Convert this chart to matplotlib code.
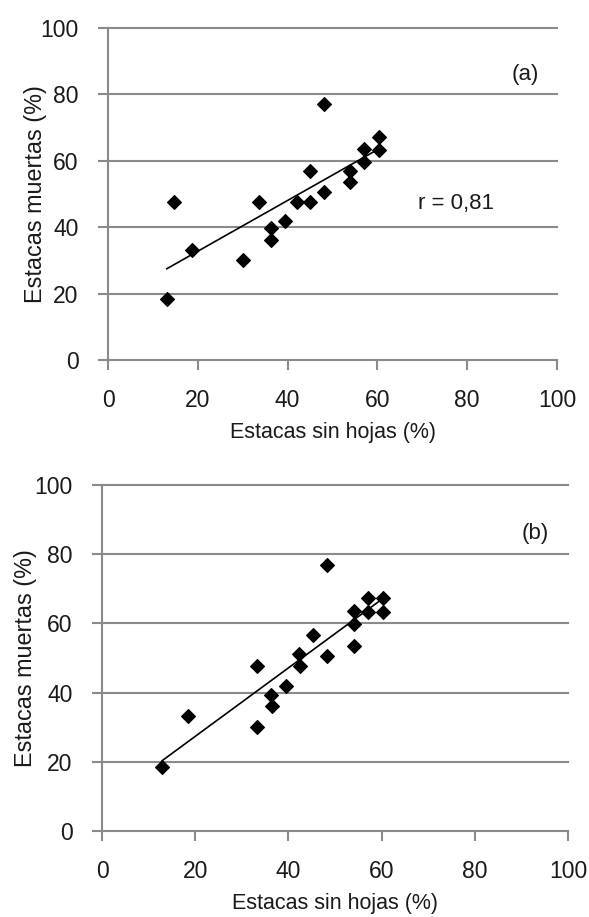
import numpy as np
import matplotlib as mpl
import matplotlib.pyplot as plt

# panel (a) values
a_sin_hojas = [13.1, 14.7, 18.6, 30.1, 33.6, 36.4, 36.4, 39.5, 42.2, 45.0,
               45.0, 48.2, 48.2, 54.0, 54.0, 57.0, 57.0, 60.4, 60.4]
a_muertas = [18.5, 47.7, 33.2, 30.0, 47.7, 39.7, 36.2, 42.0, 47.7, 56.8,
             47.7, 77.0, 50.6, 56.8, 53.5, 63.5, 59.7, 67.3, 63.3]

# panel (b)
b_sin_hojas = [12.9, 18.5, 33.3, 33.3, 36.3, 36.5, 39.4, 42.2, 42.4, 45.2,
               48.2, 48.2, 54.0, 54.0, 54.0, 57.0, 57.0, 60.4, 60.4]
b_muertas = [18.5, 33.1, 47.8, 30.0, 39.4, 36.0, 42.0, 51.2, 47.7, 56.6,
             76.9, 50.7, 63.7, 59.8, 53.6, 67.3, 63.2, 67.3, 63.2]

ticks = [0, 20, 40, 60, 80, 100]
xlabel = "Estacas sin hojas (%)"
ylabel = "Estacas muertas (%)"

GRAY = "#8a8a8a"
TXT = "#1a1a1a"

mpl.rcParams.update({
    "font.family": ["Liberation Sans", "DejaVu Sans"],
    "font.size": 15.5,
    "xtick.labelsize": 16.5,
    "ytick.labelsize": 16.5,
    "text.color": TXT,
    "axes.labelcolor": TXT,
    "xtick.color": GRAY,
    "ytick.color": GRAY,
    "xtick.labelcolor": TXT,
    "ytick.labelcolor": TXT,
})


def draw_panel(ax, x, y, tag, ylab_x, r_text=None):
    ax.set_xlim(0, 100)
    ax.set_ylim(0, 100)
    ax.set_xticks(ticks)
    ax.set_yticks(ticks)

    for s in ("top", "right"):
        ax.spines[s].set_visible(False)
    for s in ("left", "bottom"):
        ax.spines[s].set_color(GRAY)
        ax.spines[s].set_linewidth(1.5)
    ax.tick_params(direction="out", length=7.2, width=1.5, pad=14)

    for t in ticks[1:]:
        ax.axhline(t, color=GRAY, lw=1.5, zorder=0, clip_on=False)

    # least squares trend line over the data range
    xs = np.array(x)
    k, b = np.polyfit(xs, np.array(y), 1)
    xx = np.array([xs.min(), xs.max()])
    ax.plot(xx, k * xx + b, color="black", lw=1.2, zorder=2)

    ax.plot(x, y, linestyle="none", marker="D", ms=7.2, mfc="black",
            mec="black", mew=0.8, zorder=3)

    ax.text(93, 86, tag, ha="center", va="center", fontsize=16)
    if r_text:
        ax.text(69, 47, r_text, ha="left", va="center", fontsize=16)

    ax.set_xlabel(xlabel, labelpad=7)
    ax.set_ylabel(ylabel, fontsize=16.8)
    ax.yaxis.set_label_coords(ylab_x, 0.5)


fig = plt.figure(figsize=(5.89, 9.17), dpi=100)
ax1 = fig.add_axes([0.1834, 0.6074, 0.7623, 0.3621])
ax2 = fig.add_axes([0.1732, 0.0938, 0.7912, 0.3773])

draw_panel(ax1, a_sin_hojas, a_muertas, "(a)", -0.1365, "r = 0,81")
draw_panel(ax2, b_sin_hojas, b_muertas, "(b)", -0.140)

fig.savefig("out.png", dpi=100)
